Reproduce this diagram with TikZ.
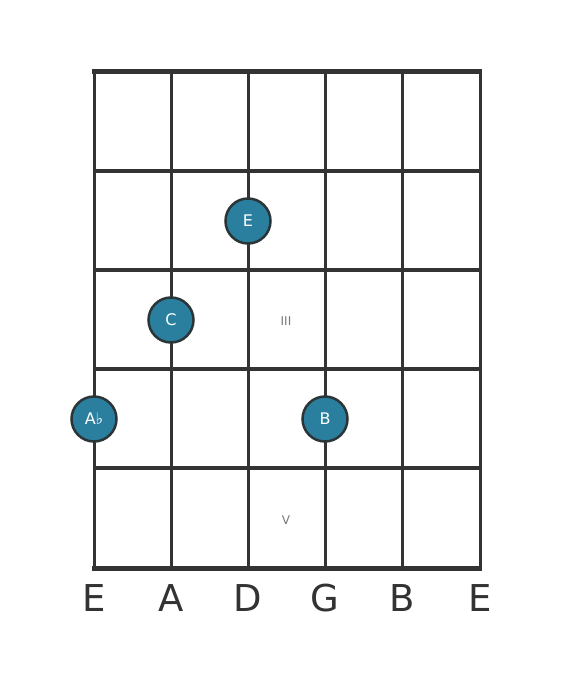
\documentclass[tikz,border=0pt]{standalone}
\usepackage{fontspec}
\setmainfont{DejaVu Sans}
\definecolor{gridc}{HTML}{333333}
\definecolor{dotfill}{HTML}{2A7F9E}
\definecolor{dotline}{HTML}{2B3538}
\definecolor{fretnum}{HTML}{777777}
\begin{document}
\begin{tikzpicture}[x=1pt,y=-1pt,
  stringline/.style={draw=gridc,line width=3pt},
  fretline/.style={draw=gridc,line width=4pt},
  nutline/.style={draw=gridc,line width=5pt},
  notedot/.style={circle,fill=dotfill,draw=dotline,line width=2.5pt,minimum size=45pt,inner sep=0pt,text=white,font=\fontsize{16}{16}\selectfont},
  strlabel/.style={text=gridc,font=\fontsize{37}{37}\selectfont,inner sep=0pt},
  fretlabel/.style={text=fretnum,font=\fontsize{12}{12}\selectfont,inner sep=0pt}]
\useasboundingbox (0,0) rectangle (560,682);
% strings
\foreach \x/\n in {94/s1,171/s2,248/s3,325/s4,402/s5,480/s6}{
  \coordinate (\n t) at (\x,72);
  \coordinate (\n b) at (\x,568);
  \draw[stringline] (\n t) -- (\n b);
}
% frets
\foreach \y/\n in {171/f1,270/f2,369/f3,468/f4}{
  \coordinate (\n l) at (94,\y);
  \coordinate (\n r) at (480,\y);
  \draw[fretline] (\n l) -- (\n r);
}
\coordinate (nl) at (92,72); \coordinate (nr) at (482,72);
\coordinate (bl) at (92,568); \coordinate (br) at (482,568);
\draw[nutline] (nl) -- (nr);
\draw[nutline] (bl) -- (br);
% fret numbers
\node[fretlabel] (iii) at (286,321) {III};
\node[fretlabel] (v) at (286,520) {V};
% notes
\node[notedot] (nE) at (248,221) {E};
\node[notedot] (nC) at (171,320) {C};
\node[notedot] (nAb) at (94,419) {A♭};
\node[notedot] (nB) at (325,419) {B};
% string names
\foreach \x/\t/\n in {94/E/l1,171/A/l2,248/D/l3,325/G/l4,402/B/l5,480/E/l6}{
  \node[strlabel] (\n) at (\x,598) {\t};
}
\end{tikzpicture}
\end{document}
